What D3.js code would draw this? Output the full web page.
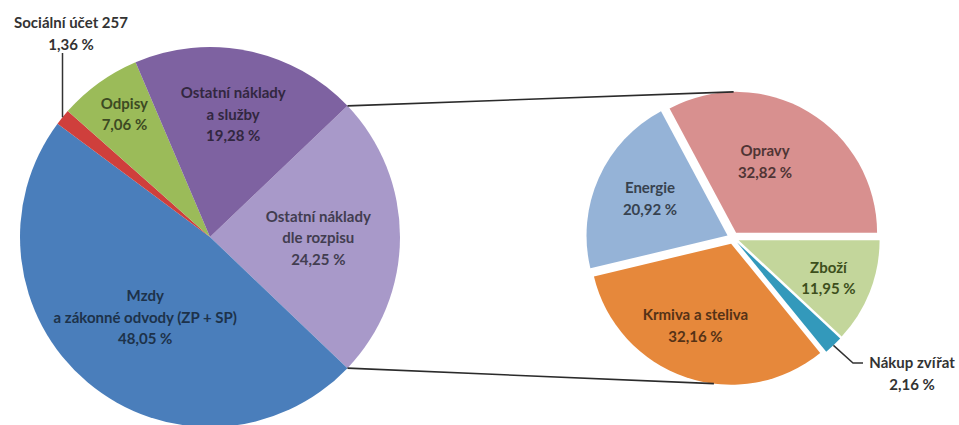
<!DOCTYPE html>
<html>
<head>
<meta charset="utf-8">
<script src="https://cdn.jsdelivr.net/npm/d3@7"></script>
<style>
  html, body { margin: 0; padding: 0; background: #fff; }
  svg { display: block; }
  text { font-family: Lato, "Open Sans", sans-serif; font-weight: bold; font-size: 15px; }
</style>
</head>
<body>
<svg id="chart" width="959" height="425"></svg>
<script>
// main pie (Excel "pie of pie"), first slice is the one split out on the right
const mainNames = ["Ostatní náklady dle rozpisu", "Mzdy a zákonné odvody (ZP + SP)", "Sociální účet 257", "Odpisy", "Ostatní náklady a služby"];
const mainLines = [["Ostatní náklady", "dle rozpisu"], ["Mzdy", "a zákonné odvody (ZP + SP)"], ["Sociální účet 257"], ["Odpisy"], ["Ostatní náklady", "a služby"]];
const mainValues = [24.25, 48.05, 1.36, 7.06, 19.28];
const mainColors = ["#a899c9", "#4a7ebb", "#cf3f3c", "#9bbb59", "#7e62a1"];

// secondary pie: breakdown of "Ostatní náklady dle rozpisu"
const subNames = ["Opravy", "Zboží", "Nákup zvířat", "Krmiva a steliva", "Energie"];
const subLines = [["Opravy"], ["Zboží"], ["Nákup zvířat"], ["Krmiva a steliva"], ["Energie"]];
const subValues = [32.82, 11.95, 2.16, 32.16, 20.92];
const subColors = ["#d8908f", "#c3d69b", "#3399bb", "#e6883b", "#95b3d7"];

const svg = d3.select("#chart");
const deg = Math.PI / 180;
const lineH = 21.5;
const fmt = v => d3.format(".2f")(v).replace(".", ",") + " %";

// geometry
const main = { cx: 210, cy: 237, r: 190 };
const sub = { cx: 733, cy: 238, r: 141, explode: 6 };

// label placement inside slices: radius fraction and small angle nudge (deg)
const mainLabelPos = [[0.57, 0], [0.54, -1], null, [0.79, 1], [0.66, -1]];
const subLabelPos = [[0.55, -9], null, null, [0.63, 5], [0.61, 1.5]];

const polar = (cx, cy, r, a) => [cx + r * Math.sin(a), cy - r * Math.cos(a)];

function drawLabel(g, x, y, lines, value, color) {
  const all = lines.concat([fmt(value)]);
  const t = g.append("text")
    .attr("text-anchor", "middle")
    .attr("fill", color);
  all.forEach((s, i) => {
    t.append("tspan")
      .attr("x", x)
      .attr("y", y + (i - (all.length - 1) / 2) * lineH)
      .attr("dominant-baseline", "central")
      .text(s);
  });
}

// ---- main pie
const otherSpan = mainValues[0] / d3.sum(mainValues) * 2 * Math.PI;
const mainStart = Math.PI / 2 - otherSpan / 2;
const mainPie = d3.pie().sort(null).value(d => d)
  .startAngle(mainStart).endAngle(mainStart + 2 * Math.PI);
const mainArcs = mainPie(mainValues);
const mainArc = d3.arc().innerRadius(0).outerRadius(main.r);

const gMain = svg.append("g").attr("transform", `translate(${main.cx},${main.cy})`);
gMain.selectAll("path")
  .data(mainArcs)
  .join("path")
  .attr("fill", (d, i) => mainColors[i])
  .attr("d", mainArc);

// ---- secondary pie (exploded slices)
const subPie = d3.pie().sort(null).value(d => d)
  .startAngle(Math.PI / 2 - subValues[0] / d3.sum(subValues) * 2 * Math.PI);
const subArcs = subPie(subValues);
const subArc = d3.arc().innerRadius(0).outerRadius(sub.r);
const midA = d => (d.startAngle + d.endAngle) / 2;
const subCenter = d => polar(sub.cx, sub.cy, sub.explode, midA(d));

svg.append("g").selectAll("path")
  .data(subArcs)
  .join("path")
  .attr("transform", d => `translate(${subCenter(d)})`)
  .attr("fill", (d, i) => subColors[i])
  .attr("d", subArc);

// ---- connector lines between the two pies
const oArc = mainArcs[0];
const opravy = subArcs[0], krmiva = subArcs[3];
const topL = polar(main.cx, main.cy, main.r, oArc.startAngle);
const botL = polar(main.cx, main.cy, main.r, oArc.endAngle);
const oc = subCenter(opravy), kc = subCenter(krmiva);
const topR = polar(oc[0], oc[1], sub.r, -1 * deg);
const botR = polar(kc[0], kc[1], sub.r, 187 * deg);
svg.append("path")
  .attr("fill", "none").attr("stroke", "#2b2b2b").attr("stroke-width", 1.6)
  .attr("d", d3.line()([topL, topR]));
svg.append("path")
  .attr("fill", "none").attr("stroke", "#2b2b2b").attr("stroke-width", 1.6)
  .attr("d", d3.line()([botL, botR]));

// ---- labels, main pie
mainArcs.forEach((d, i) => {
  const p = mainLabelPos[i];
  if (!p) return;
  const [x, y] = polar(main.cx, main.cy, main.r * p[0], midA(d) + p[1] * deg);
  drawLabel(svg, x, y, mainLines[i], mainValues[i], d3.color(mainColors[i]).darker(2.6));
});

// small red slice: label above, vertical leader
{
  const d = mainArcs[2];
  const edge = polar(main.cx, main.cy, main.r, midA(d));
  svg.append("path")
    .attr("fill", "none").attr("stroke", "#333").attr("stroke-width", 1.5)
    .attr("d", d3.line()([edge, [edge[0], 53]]));
  drawLabel(svg, 71, 33, mainLines[2], mainValues[2], "#333");
}

// ---- labels, secondary pie
subArcs.forEach((d, i) => {
  const p = subLabelPos[i];
  if (!p) return;
  const c = subCenter(d);
  const [x, y] = polar(c[0], c[1], sub.r * p[0], midA(d) + p[1] * deg);
  drawLabel(svg, x, y, subLines[i], subValues[i], d3.color(subColors[i]).darker(2.8));
});
{
  // Zboží
  const d = subArcs[1], c = subCenter(d);
  const [x, y] = polar(c[0], c[1], sub.r * 0.69, midA(d) + 1 * deg);
  drawLabel(svg, x, y, subLines[1], subValues[1], "#3d4f1c");
}
{
  // Nákup zvířat: outside label with leader
  const d = subArcs[2], c = subCenter(d);
  const edge = polar(c[0], c[1], sub.r, midA(d));
  svg.append("path")
    .attr("fill", "none").attr("stroke", "#333").attr("stroke-width", 1.5)
    .attr("d", d3.line()([edge, [853, 363], [863, 363]]));
  drawLabel(svg, 912, 373, subLines[2], subValues[2], "#333");
}
</script>
</body>
</html>
